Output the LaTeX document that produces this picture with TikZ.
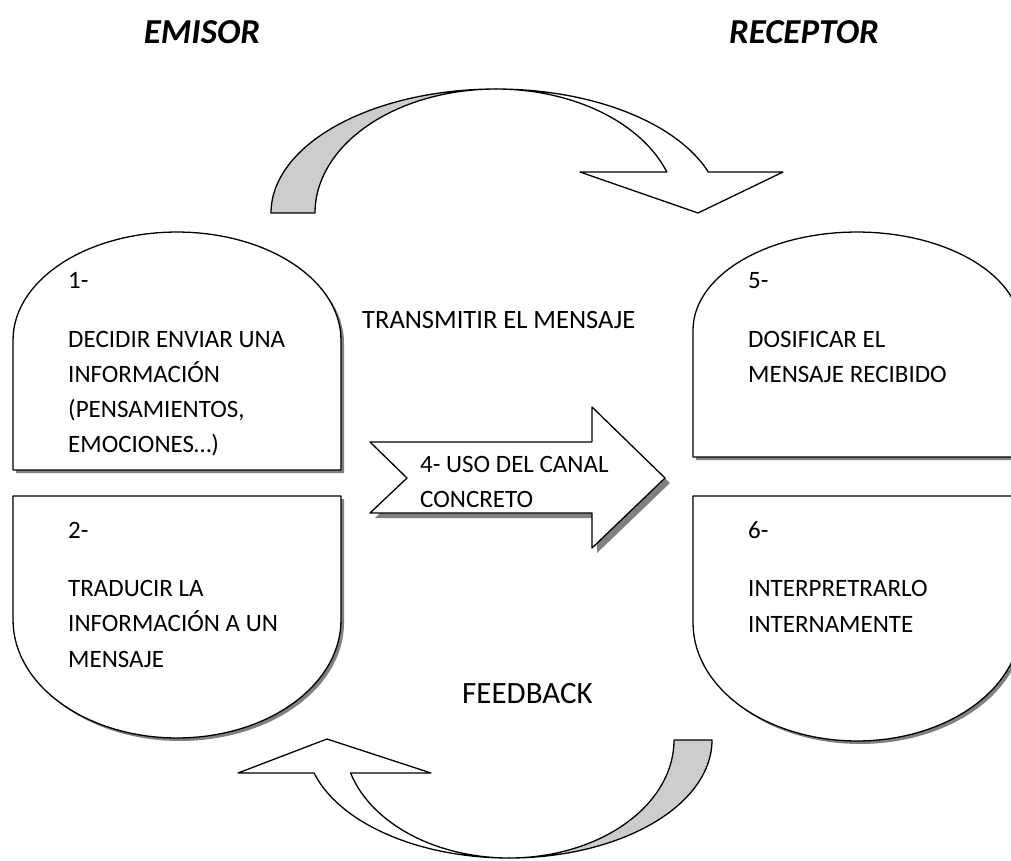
\documentclass[tikz,border=0pt]{standalone}
\usepackage{fontspec}
\setmainfont{Carlito}
\usetikzlibrary{positioning}

\definecolor{shadowgray}{RGB}{128,128,128}
\definecolor{bandgray}{RGB}{204,204,204}

\begin{document}
\begin{tikzpicture}[x=1pt,y=-1pt,line join=round,
  block/.style={draw=black,line width=1.3pt,fill=white},
  band/.style={draw=black,line width=1.3pt,fill=bandgray},
  dropbox/.style={preaction={fill=shadowgray,transform canvas={xshift=3pt,yshift=-3pt}}},
  droparrow/.style={preaction={fill=shadowgray,transform canvas={xshift=5pt,yshift=-5pt}}},
  boxtext/.style={anchor=base west,inner sep=0pt,font=\fontsize{25}{35}\selectfont},
  header/.style={anchor=base,inner sep=0pt,font=\fontsize{35}{40}\selectfont\bfseries\itshape}]

  \useasboundingbox (0,0) rectangle (1011,860);

  % top curved arrow
  \draw[band] plot[domain=180:90,samples=60] ({496+225*cos(\x)},{213-124*sin(\x)})
    -- plot[domain=90:180,samples=60] ({496+181*cos(\x)},{213-124*sin(\x)}) -- cycle;
  \draw[block] plot[domain=90:19.3,samples=60] ({496+225*cos(\x)},{213-124*sin(\x)})
    -- (783,172) -- (698,213) -- (580,172)
    -- plot[domain=19.3:90,samples=60] ({496+181*cos(\x)},{213-124*sin(\x)}) -- cycle;

  % bottom curved arrow
  \draw[band] plot[domain=0:-90,samples=60] ({509+203*cos(\x)},{740-118*sin(\x)})
    -- plot[domain=-90:0,samples=60] ({509+165*cos(\x)},{740-118*sin(\x)}) -- cycle;
  \draw[block] plot[domain=-90:-163.8,samples=60] ({509+203*cos(\x)},{740-118*sin(\x)})
    -- (238,773) -- (327,739) -- (431,773)
    -- plot[domain=-163.8:-90,samples=60] ({509+165*cos(\x)},{740-118*sin(\x)}) -- cycle;

  % emisor boxes
  \draw[block,dropbox] (13,470) -- (13,340)
    -- plot[domain=180:0,samples=60] ({177+164*cos(\x)},{340-108*sin(\x)}) -- (341,470) -- cycle;
  \draw[block,dropbox] (13,496) -- (341,496) -- (341,620)
    -- plot[domain=0:-180,samples=60] ({177+164*cos(\x)},{620-118*sin(\x)}) -- cycle;

  % receptor boxes
  \draw[block,dropbox] (693,457) -- (693,330)
    -- plot[domain=180:0,samples=60] ({857+164*cos(\x)},{330-98*sin(\x)}) -- (1021,457) -- cycle;
  \draw[block,dropbox] (693,496) -- (1021,496) -- (1021,623)
    -- plot[domain=0:-180,samples=60] ({857+164*cos(\x)},{623-118*sin(\x)}) -- cycle;

  % channel arrow
  \draw[block,droparrow] (370,442) -- (592,442) -- (592,407) -- (665,478) -- (592,548)
    -- (592,513) -- (370,513) -- (407,478) -- cycle;

  \node[header] (emisor) at (202,43) {EMISOR};
  \node[header] (receptor) at (804,43) {RECEPTOR};

  % step numbers and texts, one node per line
  \node[boxtext] (n1) at (68,288) {1-};
  \foreach \txt [count=\i] in {DECIDIR ENVIAR UNA, INFORMACIÓN, {(PENSAMIENTOS,}, EMOCIONES…)}
    \node[boxtext] (t1-\i) at (68,{347+35.2*(\i-1)}) {\txt};
  \node[boxtext] (n2) at (68,538) {2-};
  \foreach \txt [count=\i] in {TRADUCIR LA, INFORMACIÓN A UN, MENSAJE}
    \node[boxtext] (t2-\i) at (68,{596+35.5*(\i-1)}) {\txt};
  \node[boxtext] (n5) at (748,288) {5-};
  \foreach \txt [count=\i] in {DOSIFICAR EL, MENSAJE RECIBIDO}
    \node[boxtext] (t5-\i) at (748,{347+35*(\i-1)}) {\txt};
  \node[boxtext] (n6) at (748,538) {6-};
  \foreach \txt [count=\i] in {INTERPRETRARLO, INTERNAMENTE}
    \node[boxtext] (t6-\i) at (748,{596+36*(\i-1)}) {\txt};

  \node[boxtext] (canal1) at (420,472) {4- USO DEL CANAL};
  \node[boxtext] (canal2) at (420,507) {CONCRETO};
  \node[boxtext,font=\fontsize{26.5}{35}\selectfont] (transmitir) at (362,328) {TRANSMITIR EL MENSAJE};
  \node[boxtext,font=\fontsize{31}{35}\selectfont] (feedback) at (462,703) {FEEDBACK};
\end{tikzpicture}
\end{document}
